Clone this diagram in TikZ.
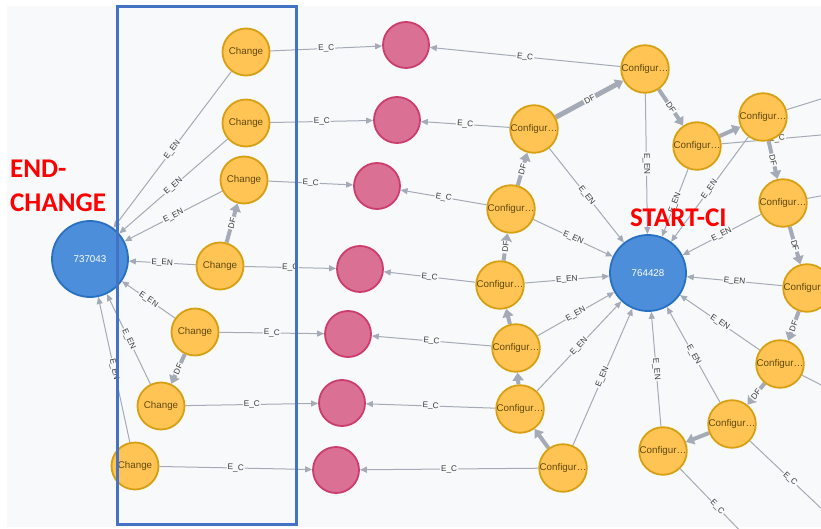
\documentclass[tikz,border=0pt]{standalone}
\usepackage{fontspec}
\setmainfont{Liberation Sans}
\newfontfamily\headfont{Carlito}
\usetikzlibrary{arrows.meta}

\definecolor{canvas}{HTML}{F8F9FB}
\definecolor{edgegray}{HTML}{A5ABB6}
\definecolor{ambfill}{HTML}{FFC454}
\definecolor{ambline}{HTML}{D7A013}
\definecolor{ambtext}{HTML}{604A0E}
\definecolor{rosefill}{HTML}{DA7194}
\definecolor{roseline}{HTML}{CC3C6C}
\definecolor{bluefill}{HTML}{4C8EDA}
\definecolor{blueline}{HTML}{2870C2}
\definecolor{framecol}{HTML}{4472C4}
\definecolor{captext}{HTML}{3A3A3A}

\pgfdeclarelayer{backdrop}
\pgfdeclarelayer{edges}
\pgfsetlayers{backdrop,edges,main}

\tikzset{
  chg/.style={circle, draw=ambline, fill=ambfill, line width=1.8pt,
    minimum size=47pt, inner sep=0pt, text=ambtext,
    font=\fontsize{9.8}{10}\selectfont},
  cfg/.style={chg},
  evt/.style={circle, draw=roseline, fill=rosefill, line width=1.8pt,
    minimum size=46pt, inner sep=0pt},
  hub/.style={circle, draw=blueline, fill=bluefill, line width=1.8pt,
    minimum size=76pt, inner sep=0pt, text=white,
    font=\fontsize{9.8}{10}\selectfont},
  rel/.style={draw=edgegray, line width=1pt,
    -{Triangle[length=7pt,width=6pt]}},
  relfree/.style={draw=edgegray, line width=1pt},
  flow/.style={draw=edgegray, line width=4pt,
    -{Triangle[length=8pt,width=11pt]}},
  relcap/.style={midway, sloped, fill=canvas, inner sep=1pt, text=captext,
    font=\fontsize{8.2}{9}\selectfont},
  heading/.style={text=red, font=\headfont\bfseries\fontsize{27}{30}\selectfont,
    inner sep=0pt, anchor=base west},
}

\begin{document}
\begin{tikzpicture}[x=1pt,y=-1pt]
  \useasboundingbox (0,0) rectangle (821,529);
  \begin{pgfonlayer}{backdrop}
    \fill[white] (0,0) rectangle (821,529);
    \fill[canvas] (7,6) rectangle (821,527);
  \end{pgfonlayer}

  % change events
  \node[chg] (C1) at (246,52)  {Change};
  \node[chg] (C2) at (246,123) {Change};
  \node[chg] (C3) at (244,180) {Change};
  \node[chg] (C4) at (220,266) {Change};
  \node[chg] (C5) at (195,332) {Change};
  \node[chg] (C6) at (161,406) {Change};
  \node[chg] (C7) at (135,466) {Change};

  % end node of the change trace
  \node[hub] (E) at (90,259) {737043};

  % entity nodes
  \node[evt] (R1) at (406,45)  {};
  \node[evt] (R2) at (397,120) {};
  \node[evt] (R3) at (377,186) {};
  \node[evt] (R4) at (360,269) {};
  \node[evt] (R5) at (348,334) {};
  \node[evt] (R6) at (342,403) {};
  \node[evt] (R7) at (336,470) {};

  % configuration items
  \node[cfg] (K1)  at (645,69)  {Configur…};
  \node[cfg] (K2)  at (534,129) {Configur…};
  \node[cfg] (K3)  at (511,209) {Configur…};
  \node[cfg] (K4)  at (500,285) {Configur…};
  \node[cfg] (K5)  at (516,348) {Configur…};
  \node[cfg] (K6)  at (520,409) {Configur…};
  \node[cfg] (K7)  at (563,468) {Configur…};
  \node[cfg] (K8)  at (697,146) {Configur…};
  \node[cfg] (K9)  at (763,117) {Configur…};
  \node[cfg] (K10) at (783,203) {Configur…};
  \node[cfg] (K11) at (807,288) {Configur…};
  \node[cfg] (K12) at (780,364) {Configur…};
  \node[cfg] (K13) at (732,424) {Configur…};
  \node[cfg] (K14) at (663,451) {Configur…};

  % start node of the CI trace
  \node[hub] (S) at (648,273) {764428};

  % targets beyond the visible area
  \coordinate (o8)  at (900,128);
  \coordinate (o9)  at (900,74.5);
  \coordinate (o10) at (900,181);
  \coordinate (o12) at (900,425);
  \coordinate (o13) at (900,583);
  \coordinate (o14) at (778,570);

  \begin{pgfonlayer}{edges}
    \clip (0,0) rectangle (821,529);
    % change -> end node
    \draw[rel] (C1) -- node[relcap]{E\_EN} (E);
    \draw[rel] (C2) -- node[relcap]{E\_EN} (E);
    \draw[rel] (C3) -- node[relcap]{E\_EN} (E);
    \draw[rel] (C4) -- node[relcap]{E\_EN} (E);
    \draw[rel] (C5) -- node[relcap]{E\_EN} (E);
    \draw[rel] (C6) -- node[relcap]{E\_EN} (E);
    \draw[rel] (C7) -- node[relcap]{E\_EN} (E);
    % change -> entity
    \draw[rel] (C1) -- node[relcap]{E\_C} (R1);
    \draw[rel] (C2) -- node[relcap]{E\_C} (R2);
    \draw[rel] (C3) -- node[relcap]{E\_C} (R3);
    \draw[rel] (C4) -- node[relcap]{E\_C} (R4);
    \draw[rel] (C5) -- node[relcap]{E\_C} (R5);
    \draw[rel] (C6) -- node[relcap]{E\_C} (R6);
    \draw[rel] (C7) -- node[relcap]{E\_C} (R7);
    % configuration item -> entity
    \draw[rel] (K1) -- node[relcap]{E\_C} (R1);
    \draw[rel] (K2) -- node[relcap]{E\_C} (R2);
    \draw[rel] (K3) -- node[relcap]{E\_C} (R3);
    \draw[rel] (K4) -- node[relcap]{E\_C} (R4);
    \draw[rel] (K5) -- node[relcap]{E\_C} (R5);
    \draw[rel] (K6) -- node[relcap]{E\_C} (R6);
    \draw[rel] (K7) -- node[relcap]{E\_C} (R7);
    % configuration item -> start node
    \foreach \k in {K1,K2,K3,K4,K5,K6,K7,K8,K9,K10,K11,K12,K13,K14}
      \draw[rel] (\k) -- node[relcap]{E\_EN} (S);
    % relations leaving the visible area
    \draw[relfree] (K8)  -- node[relcap,pos=0.31]{E\_C} (o8);
    \draw[relfree] (K9)  -- (o9);
    \draw[relfree] (K10) -- (o10);
    \draw[relfree] (K12) -- (o12);
    \draw[relfree] (K13) -- node[relcap,pos=0.268]{E\_C} (o13);
    \draw[relfree] (K14) -- node[relcap,pos=0.379]{E\_C} (o14);
    % directly-follows chains
    \draw[flow] (C4) -- node[relcap]{DF} (C3);
    \draw[flow] (C5) -- node[relcap]{DF} (C6);
    \draw[flow] (K7) -- (K6);
    \draw[flow] (K6) -- (K5);
    \draw[flow] (K5) -- (K4);
    \draw[flow] (K4) -- node[relcap]{DF} (K3);
    \draw[flow] (K3) -- node[relcap]{DF} (K2);
    \draw[flow, line width=5pt] (K2) -- node[relcap]{DF} (K1);
    \draw[flow] (K1) -- node[relcap]{DF} (K8);
    \draw[flow] (K8) -- (K9);
    \draw[flow] (K9) -- node[relcap]{DF} (K10);
    \draw[flow] (K10) -- node[relcap]{DF} (K11);
    \draw[flow] (K11) -- node[relcap]{DF} (K12);
    \draw[flow] (K12) -- node[relcap]{DF} (K13);
    \draw[flow] (K13) -- (K14);
  \end{pgfonlayer}

  % headings
  \node[heading] (endA) at (10,178) {END-};
  \node[heading] (endB) at (10,212) {CHANGE};
  \node[heading] (startT) at (630,227) {START-CI};

  % frame around the change events
  \draw[framecol, line width=3pt] (117,7) rectangle (296,524);
\end{tikzpicture}
\end{document}
